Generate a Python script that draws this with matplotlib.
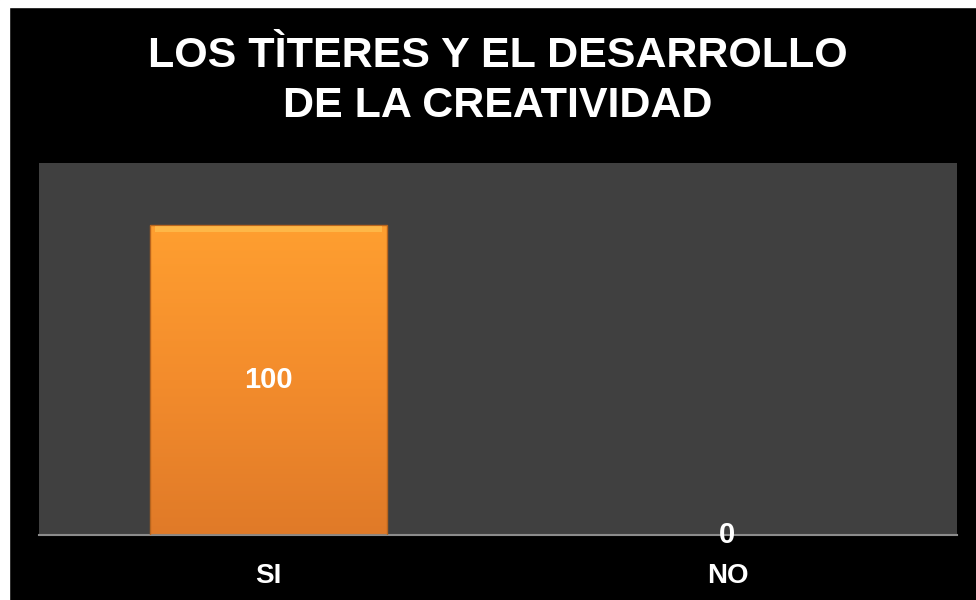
import numpy as np
import matplotlib.pyplot as plt
from matplotlib.patches import Rectangle
from matplotlib.colors import LinearSegmentedColormap

categories = ["SI", "NO"]
values = [100, 0]
title = "LOS TÌTERES Y EL DESARROLLO\nDE LA CREATIVIDAD"

plt.rcParams['font.family'] = ['Liberation Sans', 'DejaVu Sans']

fig = plt.figure(figsize=(9.76, 6), dpi=100)
fig.patch.set_facecolor('black')
# thin white strip along the top and left edges
fig.add_artist(Rectangle((0, 1 - 7/600), 1, 7/600, transform=fig.transFigure, color='white', zorder=0))
fig.add_artist(Rectangle((0, 0), 9/976, 1, transform=fig.transFigure, color='white', zorder=0))

ax = fig.add_axes([39/976, 65/600, 918/976, 372/600])
ax.set_facecolor('#404040')

x = np.arange(len(categories))
bars = ax.bar(x, values, width=0.515, color='none', edgecolor='#b8651e', linewidth=1, zorder=3)

# vertical orange gradient inside the bars
cmap = LinearSegmentedColormap.from_list('og', ['#e07a28', '#f38c2c', '#ff9f30'])
grad = np.linspace(0, 1, 256).reshape(-1, 1)
for b in bars:
    h = b.get_height()
    if h <= 0:
        b.set_edgecolor('none')
        continue
    x0 = b.get_x()
    w = b.get_width()
    im = ax.imshow(grad, cmap=cmap, origin='lower', aspect='auto',
                   extent=[x0, x0 + w, 0, h], zorder=2)
    im.set_clip_path(b)
    # light bevel at the top
    ax.fill_between([x0 + 0.01, x0 + w - 0.01], h - 2.2, h - 0.4, color='#ffd060', alpha=0.5, zorder=4, linewidth=0)

ax.set_xlim(-0.5, 1.5)
ax.set_ylim(0, 120)

for xi, v in zip(x, values):
    ax.text(xi, v / 2, str(v), ha='center', va='center', color='white',
            fontsize=21, fontweight='bold', zorder=5, clip_on=False)

ax.set_xticks(x)
ax.set_xticklabels(categories, color='white', fontsize=20, fontweight='bold')
ax.tick_params(axis='x', length=0, pad=20)
ax.set_yticks([])
for s in ['top', 'right', 'left']:
    ax.spines[s].set_visible(False)
ax.spines['bottom'].set_color('#8c8c8c')
ax.spines['bottom'].set_linewidth(1.5)

fig.text(498/976, 1 - 81/600, title, ha='center', va='center', color='white',
         fontsize=31, fontweight='bold', linespacing=1.3)

fig.savefig('out.png', dpi=100, facecolor=fig.get_facecolor())
